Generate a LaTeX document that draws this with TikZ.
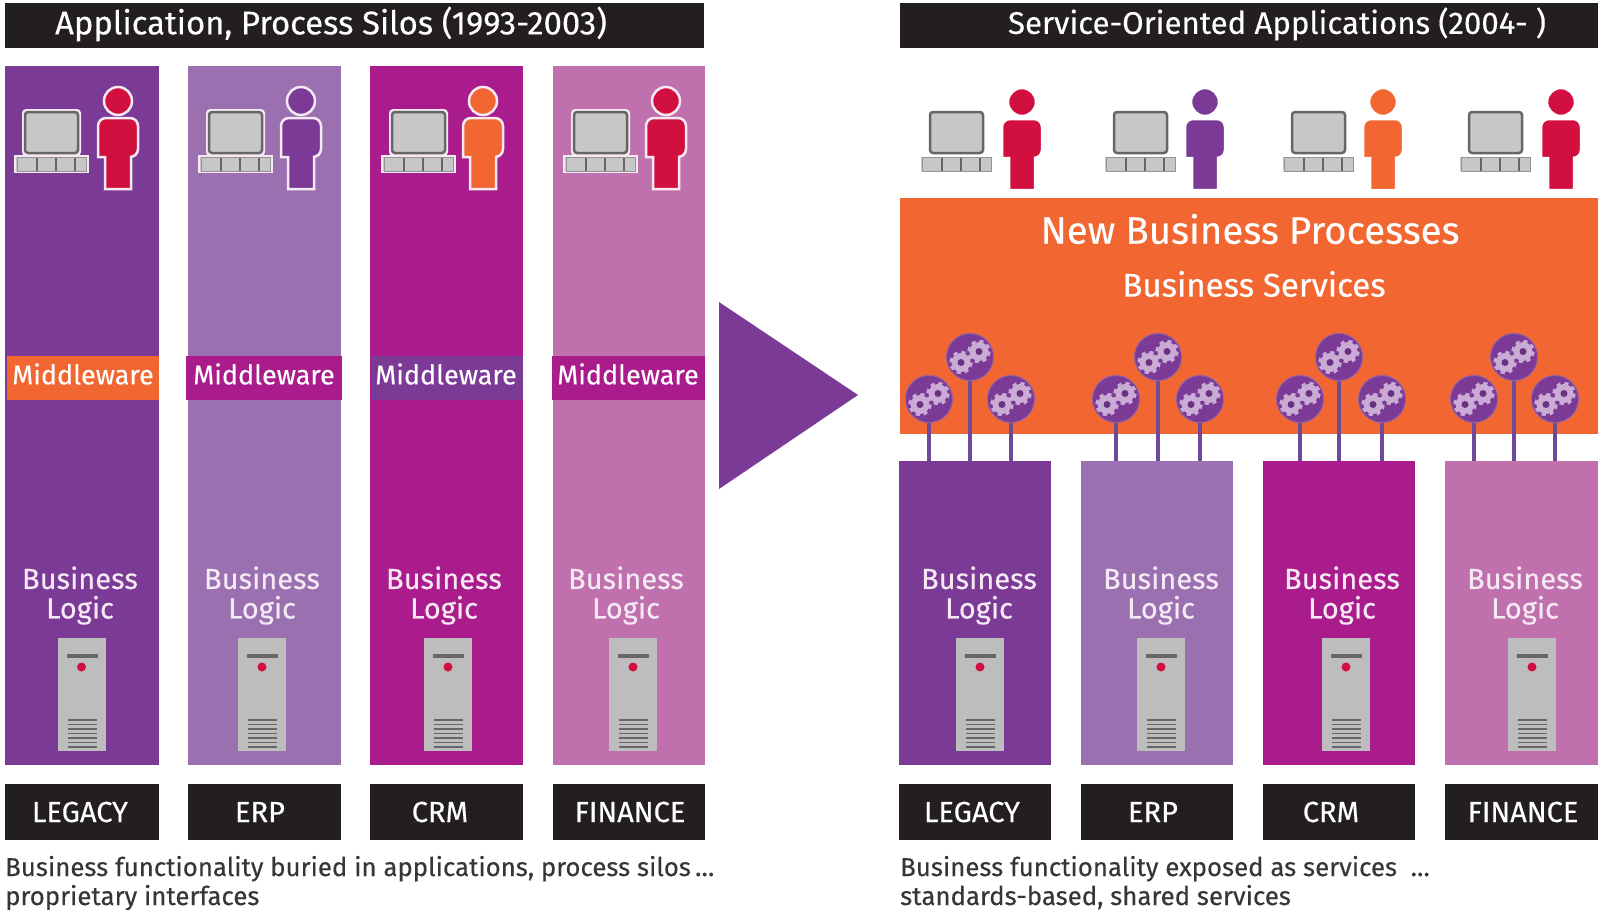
\documentclass[tikz,border=0pt]{standalone}
\usepackage{fontspec}
\setmainfont[FakeBold=0.3]{Fira Sans}
\definecolor{cA}{HTML}{7B3A96}
\definecolor{cB}{HTML}{9A70B0}
\definecolor{cC}{HTML}{AA1C8B}
\definecolor{cD}{HTML}{BF70AD}
\definecolor{cO}{HTML}{F26631}
\definecolor{cR}{HTML}{D2103F}
\definecolor{cK}{HTML}{231F20}
\definecolor{cG}{HTML}{BDBDBD}
\definecolor{cGd}{HTML}{666666}
\definecolor{cT}{HTML}{F5E9F3}
\definecolor{cGear}{HTML}{C9ABD6}
\definecolor{cLine}{HTML}{6F4A9A}
\tikzset{
  x=1pt,y=-1pt,
  bar/.style={fill=cK,draw=none,inner sep=0,anchor=north west,text=white},
  pillar/.style={draw=none,inner sep=0,anchor=north west},
  mw/.style={draw=none,inner sep=0,anchor=north west,text=white,font=\fontsize{27}{27}\selectfont},
  blogic/.style={inner sep=0,text=cT,align=center,font=\fontsize{29}{29.5}\selectfont},
  lab/.style={inner sep=0,text=white,font=\fontsize{29}{29}\selectfont},
  captxt/.style={inner sep=0,anchor=base west,text=cK!90,font=\fontsize{25.8}{26}\selectfont},
  stem/.style={draw=cLine,line width=3.4pt},
}
% #1 column name, #2 x, #3 y, #4 w, #5 h, #6 colour
\newcommand{\pil}[6]{\node[pillar,fill=#6,minimum width=#4pt,minimum height=#5pt] (#1) at (#2,#3) {};}
% #1 cx, #2 head y, #3 colour, #4 outline
\newcommand{\person}[4]{\begin{scope}[shift={(#1,#2)}]
  \fill[#3,draw=#4,line width=2.5pt] (0,0) circle (14);
  \path[fill=#3,draw=#4,line width=2.5pt,rounded corners=8pt] (-20,56) -- (-20,17) -- (20,17) -- (20,56) [sharp corners] -- (13,56) -- (13,88) -- (-13,88) -- (-13,56) -- cycle;
\end{scope}}
% #1 keyboard left, #2 y top of monitor, #3 outline
\newcommand{\computer}[3]{\begin{scope}[shift={(#1,#2)}]
  \path[fill=cG!85,draw=#3,line width=1.5pt] (0,46) rectangle (73,62);
  \foreach \k in {22,41,60}{\draw[cGd,line width=1.2pt] (\k,47) -- (\k,61);}
  \draw[cGd!70,line width=1pt] (2,47) rectangle (71,61);
  \path[fill=#3,rounded corners=4pt] (7,-1) rectangle (66,46);
  \path[fill=cG!85,draw=cGd,line width=2.5pt,rounded corners=3pt] (10,2) rectangle (63,43);
\end{scope}}
% #1 cx
\newcommand{\server}[1]{\begin{scope}[shift={(#1,638)}]
  \fill[cG] (-24,0) rectangle (24,113);
  \fill[cGd] (-15,16) rectangle (16,20);
  \fill[cR] (0,29) circle (4.5);
  \foreach \k in {82,86.5,...,109}{\draw[cGd,line width=1.3pt] (-14,\k) -- (15,\k);}
\end{scope}}
\newcommand{\gearat}[2]{\begin{scope}[shift={(#1,#2)}]
  \draw[cGear,line width=3.5pt,dash pattern=on 4pt off 3.85pt] (0,0) circle (10);
  \fill[cGear] (0,0) circle (9.5);
  \fill[cA!85!black] (0,0) circle (3.5);
\end{scope}}
% #1 name, #2 cx, #3 cy
\newcommand{\gball}[3]{\node[circle,fill=cA,draw=cB!70!cA,line width=1pt,minimum size=47pt,inner sep=0] (#1) at (#2,#3) {};
  \gearat{#2-9}{#3+5.5}\gearat{#2+9}{#3-5.5}}
\begin{document}
\begin{tikzpicture}
\useasboundingbox (0,0) rectangle (1598,910);
\fill[white] (0,0) rectangle (1598,910);
% headers
\node[bar,minimum width=699pt,minimum height=45pt] (hl) at (5,3) {};
\node[bar,minimum width=698pt,minimum height=45pt] (hr) at (900,3) {};
\node[inner sep=0,text=white,font=\fontsize{32.8}{33}\selectfont] (hlt) at (331,24) {Application, Process Silos (1993-2003)};
\node[inner sep=0,text=white,font=\fontsize{31.2}{32}\selectfont] (hrt) at (1277,24) {Service-Oriented Applications (2004- )};
% left pillars
\pil{a1}{5}{66}{154}{699}{cA}
\pil{a2}{188}{66}{153}{699}{cB}
\pil{a3}{370}{66}{153}{699}{cC}
\pil{a4}{553}{66}{152}{699}{cD}
% middleware
\node[mw,fill=cO,minimum width=152pt,minimum height=44pt] (m1) at (7,356) {};
\node[mw,fill=cC,minimum width=156pt,minimum height=44pt] (m2) at (186,356) {};
\node[mw,fill=cA,minimum width=151pt,minimum height=44pt] (m3) at (372,356) {};
\node[mw,fill=cC,minimum width=153pt,minimum height=44pt] (m4) at (552,356) {};
\node[inner sep=0,text=white,font=\fontsize{27}{27}\selectfont] (mt1) at (83,374) {Middleware};
\node[inner sep=0,text=white,font=\fontsize{27}{27}\selectfont] (mt2) at (264,374) {Middleware};
\node[inner sep=0,text=white,font=\fontsize{27}{27}\selectfont] (mt3) at (446,374) {Middleware};
\node[inner sep=0,text=white,font=\fontsize{27}{27}\selectfont] (mt4) at (628,374) {Middleware};
% left users
\computer{15}{110}{cT}\person{118}{101}{cR}{cT}
\computer{199}{110}{cT}\person{301}{101}{cA}{cT}
\computer{382}{110}{cT}\person{483}{101}{cO}{cT}
\computer{564}{110}{cT}\person{666}{101}{cR}{cT}
% arrow
\fill[cA] (719,302) -- (858,395) -- (719,489) -- cycle;
% orange band
\node[pillar,fill=cO,minimum width=698pt,minimum height=236pt] (band) at (900,198) {};
\node[inner sep=0,text=white,font=\fontsize{38.4}{39}\selectfont] (nbp) at (1250,229) {New Business Processes};
\node[inner sep=0,text=white,font=\fontsize{33}{33}\selectfont] (bs) at (1254,284) {Business Services};
% right users
\computer{920}{110}{white}\person{1022}{102}{cR}{white}
\computer{1104}{110}{white}\person{1205}{102}{cA}{white}
\computer{1282}{110}{white}\person{1383}{102}{cO}{white}
\computer{1459}{110}{white}\person{1561}{102}{cR}{white}
% right pillars
\pil{b1}{899}{461}{152}{304}{cA}
\pil{b2}{1081}{461}{152}{304}{cB}
\pil{b3}{1263}{461}{152}{304}{cC}
\pil{b4}{1445}{461}{153}{304}{cD}
% stems and balls
\foreach \n/\cx/\cy/\p in {g11/929/399/b1,g12/970/357/b1,g13/1011/399/b1,g21/1116/399/b2,g22/1158/357/b2,g23/1200/399/b2,g31/1300/399/b3,g32/1339/357/b3,g33/1382/399/b3,g41/1474/399/b4,g42/1514/357/b4,g43/1555/399/b4}{
  \gball{\n}{\cx}{\cy}
  \draw[stem] (\n.south) -- (\n.south |- \p.north);
}
% business logic
\foreach \n/\x in {bl1/80,bl2/262,bl3/444,bl4/626,bl5/979,bl6/1161,bl7/1342,bl8/1525}{
  \node[blogic] (\n) at (\x,595.5) {Business\\Logic};
}
% servers
\foreach \x in {81.5,262,448,633,980,1161,1346,1532}{\server{\x}}
% labels
\node[bar,minimum width=154pt,minimum height=56pt] (l1) at (5,784) {};
\node[bar,minimum width=153pt,minimum height=56pt] (l2) at (188,784) {};
\node[bar,minimum width=153pt,minimum height=56pt] (l3) at (370,784) {};
\node[bar,minimum width=152pt,minimum height=56pt] (l4) at (553,784) {};
\node[bar,minimum width=152pt,minimum height=56pt] (l5) at (899,784) {};
\node[bar,minimum width=152pt,minimum height=56pt] (l6) at (1081,784) {};
\node[bar,minimum width=152pt,minimum height=56pt] (l7) at (1263,784) {};
\node[bar,minimum width=153pt,minimum height=56pt] (l8) at (1445,784) {};
\foreach \n/\x/\t in {t1/80/LEGACY,t2/260/ERP,t3/440/CRM,t4/630/FINANCE,t5/972/LEGACY,t6/1153/ERP,t7/1331/CRM,t8/1523/FINANCE}{
  \node[lab] (\n) at (\x,812) {\t};
}
% captions
\node[captxt] (c1) at (5,876) {Business functionality buried in applications, process silos\,\dots};
\node[captxt] (c2) at (5,905) {proprietary interfaces};
\node[captxt] (c3) at (900,876) {Business functionality exposed as services\ \ \dots};
\node[captxt] (c4) at (900,905) {standards-based, shared services};
\end{tikzpicture}
\end{document}
